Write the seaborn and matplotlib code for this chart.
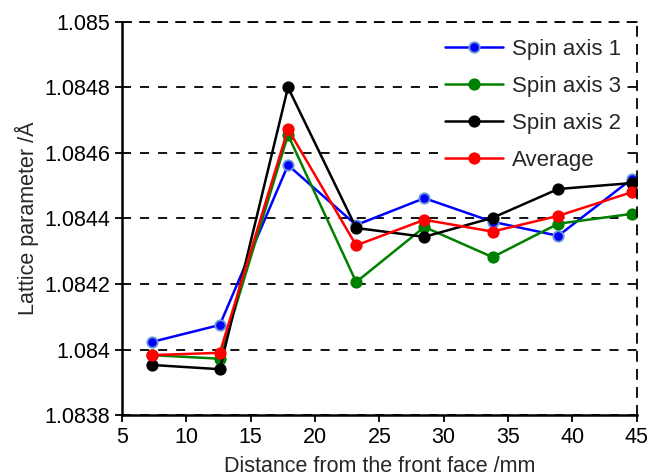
import matplotlib
matplotlib.use("Agg")
import matplotlib.pyplot as plt
import pandas as pd
import seaborn as sns
from matplotlib.ticker import FormatStrFormatter

# Data
distance = [7.3, 12.6, 17.9, 23.2, 28.5, 33.8, 38.9, 44.6]
spin_axis_1 = [1.084023, 1.084075, 1.084563, 1.084380, 1.084462, 1.084390, 1.084347, 1.084520]
spin_axis_3 = [1.083983, 1.083972, 1.084655, 1.084206, 1.084374, 1.084282, 1.084384, 1.084414]
spin_axis_2 = [1.083953, 1.083940, 1.084800, 1.084371, 1.084344, 1.084402, 1.084490, 1.084508]
average = [1.083983, 1.083990, 1.084673, 1.084318, 1.084396, 1.084360, 1.084408, 1.084480]

series = {
    "Spin axis 1": (spin_axis_1, "blue", "#6a9ad8"),
    "Spin axis 3": (spin_axis_3, "green", "green"),
    "Spin axis 2": (spin_axis_2, "black", "black"),
    "Average": (average, "red", "red"),
}

sns.set_style("ticks")
plt.rcParams["font.family"] = ["Liberation Sans", "DejaVu Sans"]

fig = plt.figure(figsize=(6.49, 4.76), dpi=100)
ax = fig.add_axes([0.188, 0.128, 0.793, 0.826])

for name, (vals, color, edge) in series.items():
    df = pd.DataFrame({"x": distance, "y": vals})
    sns.lineplot(data=df, x="x", y="y", ax=ax, color=color, lw=1.8,
                 marker="o", markersize=7.5, markerfacecolor=color,
                 markeredgecolor=edge, markeredgewidth=1.3, label=name)

ax.set_xlim(5, 45)
ax.set_ylim(1.0838, 1.085)
ax.set_xticks(range(5, 46, 5))
ax.set_yticks([1.0838, 1.084, 1.0842, 1.0844, 1.0846, 1.0848, 1.085])
ax.yaxis.set_major_formatter(FormatStrFormatter("%g"))
ax.grid(axis="y", color="black", linestyle=(0, (5, 5)), lw=1.3)
ax.set_axisbelow(True)

for side in ["left", "bottom"]:
    ax.spines[side].set_linewidth(1.8)
    ax.spines[side].set_color("black")
for side in ["top", "right"]:
    ax.spines[side].set_visible(True)
    ax.spines[side].set_linestyle((0, (5, 5)))
    ax.spines[side].set_linewidth(1.3)
    ax.spines[side].set_color("black")

ax.tick_params(labelsize=15.5, direction="out", length=5, width=1.3, colors="black")
ax.set_xlabel("Distance from the front face /mm", fontsize=15.5, labelpad=6)
ax.set_ylabel("Lattice parameter /Å", fontsize=15.5, labelpad=4)

leg = ax.legend(loc="upper right", bbox_to_anchor=(0.995, 0.99), frameon=True,
                fontsize=16, handlelength=2.6, labelspacing=0.72, handletextpad=0.4,
                borderaxespad=0.3, borderpad=0.3, fancybox=False, framealpha=1)
leg.get_frame().set_facecolor("white")
leg.get_frame().set_edgecolor("none")

fig.savefig("out.png", dpi=100)
